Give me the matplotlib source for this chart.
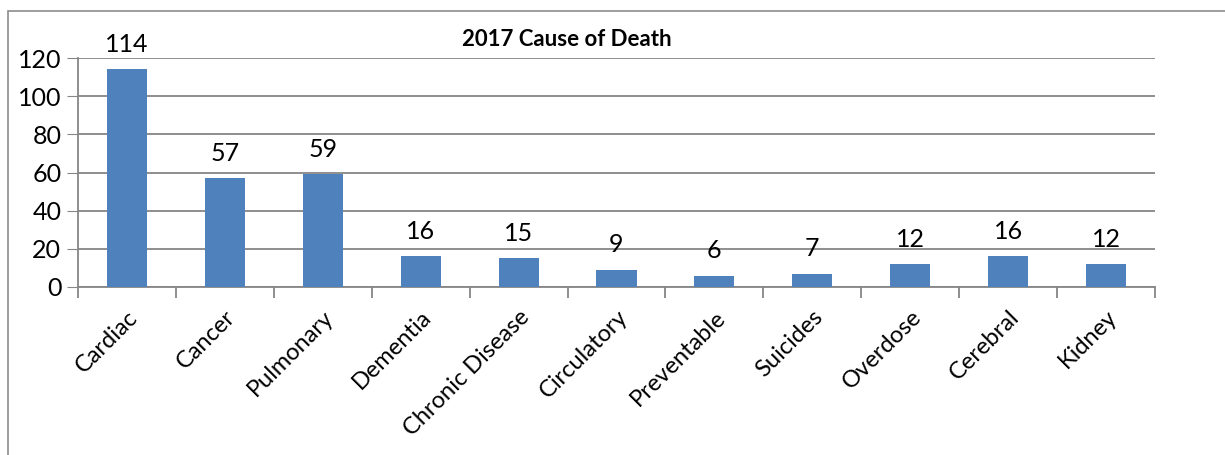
import matplotlib.pyplot as plt
from matplotlib.patches import Rectangle

causes = ['Cardiac', 'Cancer', 'Pulmonary', 'Dementia', 'Chronic Disease',
          'Circulatory', 'Preventable', 'Suicides', 'Overdose', 'Cerebral', 'Kidney']
deaths = [114, 57, 59, 16, 15, 9, 6, 7, 12, 16, 12]
yticks = [0, 20, 40, 60, 80, 100, 120]

plt.rcParams['font.family'] = ['Lato', 'DejaVu Sans']

fig = plt.figure(figsize=(12.25, 4.55), dpi=100)
ax = fig.add_axes([78 / 1225, 1 - 287 / 455, 1077 / 1225, 229 / 455])

# chart border (cut off on right and bottom like the screenshot)
fig.patches.append(Rectangle((8 / 1225, -0.1), 1.2, 1 - 11 / 455 + 0.1,
                             transform=fig.transFigure, fill=False,
                             edgecolor='#8c8c8c', linewidth=1.2))

x = list(range(len(causes)))
bars = ax.bar(x, deaths, width=0.41, color='#4f81bd', zorder=3)
for xi, v in zip(x, deaths):
    ax.text(xi, v + 7, str(v), ha='center', va='bottom', fontsize=18)

ax.set_xlim(-0.5, len(causes) - 0.5)
ax.set_ylim(0, 120)
ax.set_yticks(yticks)
ax.tick_params(axis='y', labelsize=18, length=8, color='#868686', pad=4)
ax.grid(axis='y', color='#868686', linewidth=1.3, zorder=0)

# category ticks at boundaries
ax.set_xticks([i - 0.5 for i in range(len(causes) + 1)], minor=False)
ax.set_xticklabels([])
ax.tick_params(axis='x', length=8, color='#868686', width=1.3)
ax.set_xticks(x, minor=True)
ax.set_xticklabels(causes, minor=True, rotation=45, ha='right',
                   rotation_mode='anchor', fontsize=17)
ax.tick_params(axis='x', which='minor', length=0, pad=14)

for s in ['top', 'right']:
    ax.spines[s].set_visible(False)
for s in ['left', 'bottom']:
    ax.spines[s].set_color('#868686')
    ax.spines[s].set_linewidth(1.3)

fig.text(567 / 1225, 1 - 40 / 455, '2017 Cause of Death', ha='center', va='center',
         fontsize=16, fontweight='bold')

fig.savefig('out.png', dpi=100)
